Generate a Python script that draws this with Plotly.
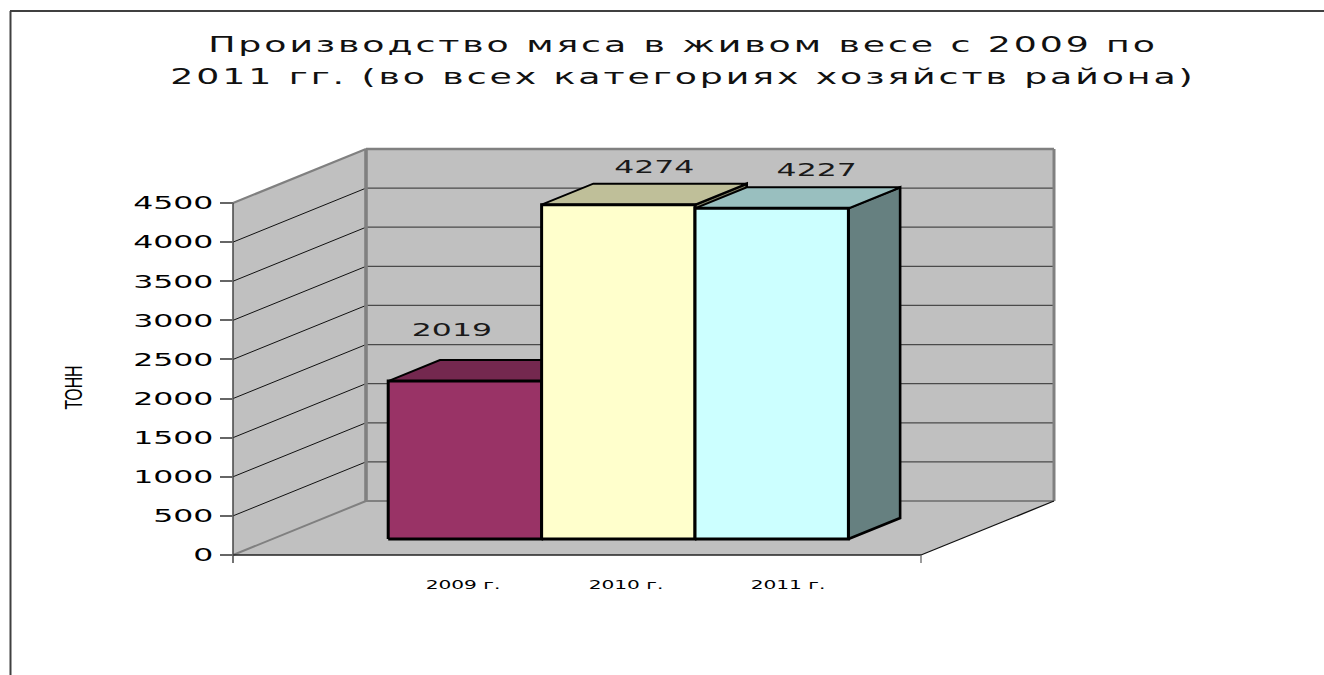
import plotly.graph_objects as go

# ---- data ----
categories = ["2009 г.", "2010 г.", "2011 г."]
values = [2019, 4274, 4227]
y_ticks = [0, 500, 1000, 1500, 2000, 2500, 3000, 3500, 4000, 4500]
title_text = "Производство мяса в живом весе с 2009 по<br>2011 гг. (во всех категориях хозяйств района)"
y_title = "ТОНН"

# ---- oblique projection of a 3-D box chart on to a pixel sized canvas ----
W, H = 1324, 675
Y_ZERO_PX, Y_MAX_PX, Y_MAX = 555, 203, 4500
PX = (Y_ZERO_PX - Y_MAX_PX) / Y_MAX           # pixels per value unit
DEPTH_X, DEPTH_Y = 133, 54                    # full wall depth in pixels
FLOOR_L, FLOOR_R = 233, 921
BAR_X0, BAR_W = 348.8, 153.4
BAR_D0, BAR_D1 = 16 / 54, 37 / 54
CAT_POS = [463, 626, 788]
LABEL_DX = [-13, 36, 45]
LABEL_DY = [29, 15, 16]


def proj(x, v, d=0.0):
    return x + d * DEPTH_X, v + d * DEPTH_Y / PX


def path(*pts):
    return [p[0] for p in pts], [p[1] for p in pts]


fig = go.Figure()


def poly(pts, fill, line="rgba(0,0,0,0)", width=0):
    xs, ys = path(*pts)
    fig.add_trace(go.Scatter(x=xs + xs[:1], y=ys + ys[:1], mode="lines", fill="toself",
                             fillcolor=fill, line=dict(color=line, width=width),
                             hoverinfo="skip", showlegend=False))


def seg(a, b, color, width):
    xs, ys = path(a, b)
    fig.add_trace(go.Scatter(x=xs, y=ys, mode="lines", line=dict(color=color, width=width),
                             hoverinfo="skip", showlegend=False))


WALL = "#C0C0C0"
EDGE = "#808080"
# walls and floor
poly([proj(FLOOR_L, 0), proj(FLOOR_R, 0), proj(FLOOR_R, 0, 1), proj(FLOOR_L, 0, 1)], WALL)
poly([proj(FLOOR_L, 0), proj(FLOOR_L, 0, 1), proj(FLOOR_L, Y_MAX, 1), proj(FLOOR_L, Y_MAX)], WALL)
poly([proj(FLOOR_L, 0, 1), proj(FLOOR_R, 0, 1), proj(FLOOR_R, Y_MAX, 1), proj(FLOOR_L, Y_MAX, 1)], WALL)
# gridlines
for t in y_ticks[1:-1]:
    seg(proj(FLOOR_L, t), proj(FLOOR_L, t, 1), "#111111", 1)
    seg(proj(FLOOR_L, t, 1), proj(FLOOR_R, t, 1), "#4a4a4a", 1.3)
# wall borders
seg(proj(FLOOR_L, Y_MAX), proj(FLOOR_L, Y_MAX, 1), EDGE, 2.2)
seg(proj(FLOOR_L, Y_MAX, 1), proj(FLOOR_R, Y_MAX, 1), EDGE, 2.6)
seg(proj(FLOOR_L, 0, 1), proj(FLOOR_L, Y_MAX, 1), EDGE, 3.6)
seg(proj(FLOOR_R, 0, 1), proj(FLOOR_R, Y_MAX, 1), EDGE, 3)
seg(proj(FLOOR_L, 0, 1), proj(FLOOR_R, 0, 1), EDGE, 2)
seg(proj(FLOOR_L, 0), proj(FLOOR_L, 0, 1), EDGE, 2)
seg(proj(FLOOR_R, 0), proj(FLOOR_R, 0, 1), "#111111", 1.3)
seg(proj(FLOOR_L, 0), proj(FLOOR_R, 0), "#222222", 1.6)
seg(proj(FLOOR_L, Y_MAX), proj(FLOOR_L, -8 / PX), "#444444", 1.5)
seg(proj(FLOOR_R, 0), proj(FLOOR_R, -8 / PX), "#666666", 1.3)

# bars
FRONT = ["#993366", "#FFFFCC", "#CCFFFF"]
TOP = ["#74284F", "#BFBF99", "#99BFBF"]
SIDE = ["#66223F", "#808066", "#668080"]
for i, v in enumerate(values):
    l, r = BAR_X0 + i * BAR_W, BAR_X0 + (i + 1) * BAR_W
    poly([proj(r, 0, BAR_D0), proj(r, 0, BAR_D1), proj(r, v, BAR_D1), proj(r, v, BAR_D0)],
         SIDE[i], "#000000", 2.6)
    poly([proj(l, v, BAR_D0), proj(r, v, BAR_D0), proj(r, v, BAR_D1), proj(l, v, BAR_D1)],
         TOP[i], "#000000", 2)
    poly([proj(l, 0, BAR_D0), proj(r, 0, BAR_D0), proj(r, v, BAR_D0), proj(l, v, BAR_D0)],
         FRONT[i], "#000000", 3)

# value labels
lx, ly = [], []
for i, v in enumerate(values):
    x, _ = proj(BAR_X0 + (i + 0.5) * BAR_W + LABEL_DX[i], v, BAR_D0)
    _, y = proj(0, v, BAR_D1)
    lx.append(x)
    ly.append(y + LABEL_DY[i] / PX)
fig.add_trace(go.Scatter(x=lx, y=ly, mode="text", text=[str(v) for v in values],
                         textposition="middle center",
                         textfont=dict(family="DejaVu Sans", size=18, color="#1a1a1a"),
                         cliponaxis=False, hoverinfo="skip", showlegend=False))

fig.update_layout(
    width=W, height=H, margin=dict(l=0, r=0, t=0, b=0),
    paper_bgcolor="white", plot_bgcolor="white",
    font=dict(family="DejaVu Sans", color="#000000"),
    title=dict(text=title_text, x=683 / W, xanchor="center", y=1 - 52 / H, yanchor="top",
               font=dict(family="DejaVu Sans", size=22, color="#111111")),
    xaxis=dict(range=[0, W], anchor="free", position=(H - Y_ZERO_PX) / H,
               tickmode="array", tickvals=CAT_POS, ticktext=categories,
               ticks="outside", ticklen=17, tickcolor="rgba(0,0,0,0)",
               showgrid=False, zeroline=False, showline=False,
               tickfont=dict(family="DejaVu Sans", size=13, color="#000000")),
    yaxis=dict(range=[(Y_ZERO_PX - H) / PX, Y_ZERO_PX / PX], anchor="free", position=FLOOR_L / W,
               tickmode="array", tickvals=y_ticks, ticks="outside", ticklen=13, tickwidth=1.5,
               tickcolor="#666666", showgrid=False, zeroline=False, showline=False,
               ticklabelstandoff=3,
               tickfont=dict(family="DejaVu Sans", size=18, color="#000000")),
    annotations=[dict(text=y_title, x=73, y=(Y_ZERO_PX - 388) / PX, xref="x", yref="y",
                      textangle=-90, showarrow=False,
                      font=dict(family="Liberation Sans", size=24, color="#000000"))],
    shapes=[dict(type="line", xref="x", yref="paper", x0=10.5, x1=10.5, y0=0, y1=1 - 11 / H,
                 line=dict(color="#404040", width=2)),
            dict(type="line", xref="x", yref="paper", x0=10, x1=W, y0=1 - 11 / H, y1=1 - 11 / H,
                 line=dict(color="#404040", width=2))],
)

post = r"""
document.documentElement.style.overflow='hidden';
document.body.style.margin='0';
var gd=document.getElementById('{plot_id}');
function fit(sel,k){gd.querySelectorAll(sel).forEach(function(t){
  var n=t.getComputedTextLength();
  t.setAttribute('textLength',n*k);t.setAttribute('lengthAdjust','spacingAndGlyphs');});}
fit('.ytick text',1.75);
fit('.xtick text',1.55);
fit('.textpoint text',1.75);
fit('.annotation-text',0.66);
var tt=gd.querySelector('.gtitle');
if(tt){
  var lines=tt.querySelectorAll('tspan.line');
  var sx=1.65, n=lines[0].getComputedTextLength(), c=lines[0].textContent.length;
  var ls=(950/sx-n)/c;
  tt.style.letterSpacing=ls+'px';
  lines[1].setAttribute('dy','32');
  lines[1].removeAttribute('y');
  var cx=parseFloat(tt.getAttribute('x'));
  tt.setAttribute('transform','translate('+cx+',0) scale('+sx+',1) translate('+(-cx)+',0)');
}
"""
fig.write_html("out.html", post_script=post, config={"displayModeBar": False})
